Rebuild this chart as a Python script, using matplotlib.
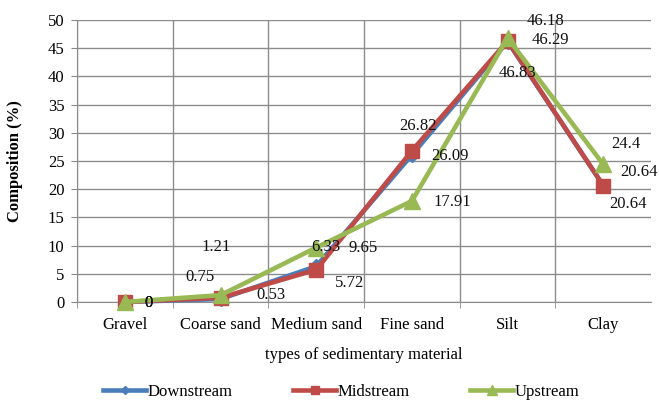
import matplotlib
matplotlib.use("Agg")
import matplotlib.pyplot as plt
from matplotlib.lines import Line2D

plt.rcParams['font.family'] = ['Liberation Serif', 'DejaVu Serif']

categories = ["Gravel", "Coarse sand", "Medium sand", "Fine sand", "Silt", "Clay"]
downstream = [0, 0.53, 6.33, 26.09, 46.18, 20.64]
midstream = [0, 0.75, 5.72, 26.82, 46.29, 20.64]
upstream = [0, 1.21, 9.65, 17.91, 46.83, 24.4]
y_ticks = [0, 5, 10, 15, 20, 25, 30, 35, 40, 45, 50]

# label offsets in pixels (dx, dy) for each series/category
off_down = [(24, -1), (50, 4), (10, 19), (38, -1), (38, 21), (36, 14)]
off_mid = [(24, -1), (-21, 21), (33, -13), (6, 25), (43, 1), (25, -18)]
off_up = [(24, -1), (-4, 48), (47, 0), (40, -1), (10, -35), (23, 20)]

FS = 12

fig = plt.figure(figsize=(6.59, 4.01), dpi=100)
ax = fig.add_axes([0.117, 0.247, 0.871, 0.703])

x = list(range(1, len(categories) + 1))
series = [
    ("Downstream", downstream, "#4A7EBB", "D", 7, off_down),
    ("Midstream", midstream, "#BE4B48", "s", 10, off_mid),
    ("Upstream", upstream, "#98B954", "^", 11, off_up),
]
handles = []
for name, vals, col, mk, ms, offs in series:
    ax.plot(x, vals, color=col, lw=3.3, marker=mk, ms=ms, mfc=col, mec=col,
            zorder=3, clip_on=False)
    handles.append(Line2D([0], [0], color=col, lw=3.3, marker=mk,
                          ms=ms * 0.6, mfc=col, mec=col))
    for xi, v, (dx, dy) in zip(x, vals, offs):
        ax.annotate(f"{v:g}", (xi, v), xytext=(dx, dy), textcoords="offset pixels",
                    ha="center", va="center", fontsize=FS, color="#111111",
                    zorder=4)

ax.set_xlim(0.5, len(categories) + 0.5)
ax.set_ylim(0, 50)
ax.set_yticks(y_ticks)
ax.set_xticks(x)
ax.set_xticklabels(categories, fontsize=FS)
ax.set_xticks([i + 0.5 for i in range(len(categories))], minor=True)
ax.tick_params(axis="x", which="major", length=0, pad=11)
ax.tick_params(axis="x", which="minor", length=4, color="#888888")
ax.tick_params(axis="y", length=4, color="#888888", labelsize=FS, pad=5)

ax.grid(True, which="major", axis="y", color="#8c8c8c", lw=1)
ax.grid(True, which="minor", axis="x", color="#8c8c8c", lw=1)
ax.set_axisbelow(True)
for s in ["top", "right"]:
    ax.spines[s].set_visible(False)
for s in ["left", "bottom"]:
    ax.spines[s].set_color("#8c8c8c")

ax.set_ylabel("Composition (%)", fontsize=FS, fontweight="bold", va="center")
ax.yaxis.set_label_coords(-0.108, 0.5)
fig.text(0.552, 1 - 355 / 401, "types of sedimentary material", fontsize=FS,
         ha="center", va="center")

fig.legend(handles, [s[0] for s in series], loc="center", ncol=3,
           bbox_to_anchor=(0.518, 1 - 392 / 401), frameon=False, fontsize=FS,
           handlelength=2.6, columnspacing=3.6, handletextpad=0.1)

fig.savefig("out.png", dpi=100)
